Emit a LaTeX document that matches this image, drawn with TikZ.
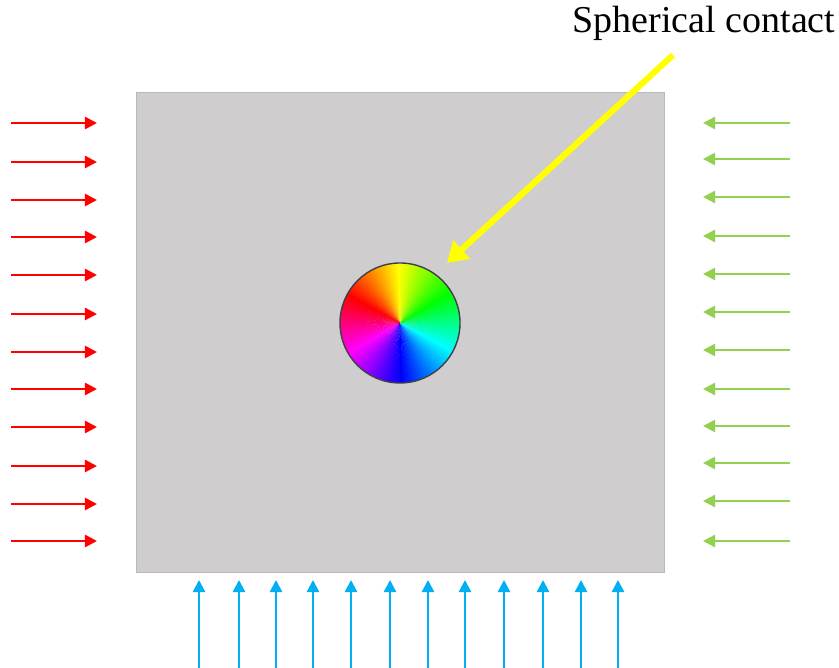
\documentclass[tikz,border=0pt]{standalone}
\usepackage{fontspec}
\setmainfont{Liberation Serif}
\usepackage{xcolor}
\usetikzlibrary{arrows.meta}

\definecolor{platefill}{RGB}{207,205,206}
\definecolor{plateedge}{RGB}{185,185,185}
\definecolor{loadred}{RGB}{255,0,0}
\definecolor{loadgreen}{RGB}{146,208,80}
\definecolor{loadblue}{RGB}{0,176,240}
\definecolor{pointer}{RGB}{255,255,0}
\definecolor{rimgray}{RGB}{64,64,70}

\begin{document}
\begin{tikzpicture}[
    x=0.025cm, y=-0.025cm,
    plate/.style={fill=platefill, draw=plateedge, line width=0.6pt},
    load/.style={line width=1.8pt, -{Triangle[length=0.3cm, width=0.3cm]}},
    rim/.style={circle, draw=rimgray, line width=1pt, minimum size=3cm, inner sep=0pt},
    lbl/.style={font=\fontsize{27}{30}\selectfont, inner sep=0pt},
  ]
    \useasboundingbox (0,0) rectangle (839,668);

    % Plate
    \node[plate, minimum width=13.2cm, minimum height=12cm, inner sep=0pt] (plate) at (400,332) {};

    % Colour wheel
    \coordinate (cc) at (400,323);
    \begin{scope}[shift={(cc)}, yscale=-1]
      \foreach \a in {0,3,...,357} {
        \pgfmathsetmacro\hh{mod(150-\a+720,360)}
        \definecolor{wc}{Hsb}{\hh,1,1}
        \fill[wc] (0,0) -- (\a:60) arc[start angle=\a, end angle=\a+3.6, radius=60] -- cycle;
      }
    \end{scope}
    \node[rim] (contact) at (cc) {};

    % Left loads
    \foreach \yy [count=\i] in {123,162,200,237,275,314,352,389,427,466,504,541} {
      \coordinate (ls\i) at (11,\yy);
      \coordinate (le\i) at (97,\yy);
      \draw[load, loadred] (ls\i) -- (le\i);
    }

    % Right loads
    \foreach \yy [count=\i] in {123,159,197,236,274,312,350,389,426,463,501,541} {
      \coordinate (rs\i) at (790,\yy);
      \coordinate (re\i) at (703,\yy);
      \draw[load, loadgreen] (rs\i) -- (re\i);
    }

    % Bottom loads
    \foreach \xx [count=\i] in {199,239,276,313,351,390,428,465,504,543,581,618} {
      \coordinate (bs\i) at (\xx,668);
      \coordinate (be\i) at (\xx,580);
      \draw[load, loadblue] (bs\i) -- (be\i);
    }

    % Label and pointer
    \node[lbl, anchor=base] (label) at (704,33) {Spherical contact};
    \coordinate (ptail) at (673,55);
    \coordinate (phead) at (447,263);
    \draw[pointer, line width=4.4pt, -{Triangle[length=0.5cm, width=0.6cm]}] (ptail) -- (phead);

  \end{tikzpicture}
\end{document}
